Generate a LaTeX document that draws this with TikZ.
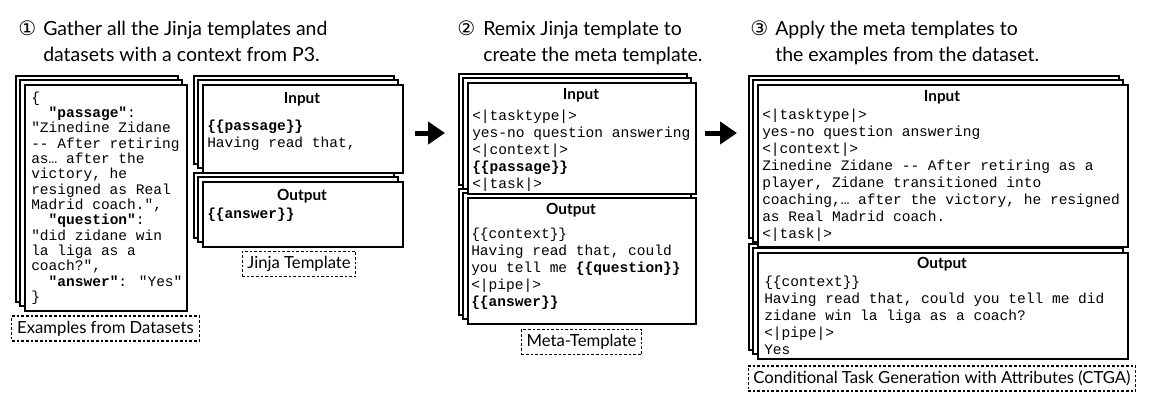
\documentclass[tikz,border=0pt]{standalone}
\usepackage{fontspec}
\setmainfont{Lato}
\newfontfamily\codefont{Liberation Mono}
\newfontfamily\numfont{DejaVu Sans}
\usetikzlibrary{shadows,arrows.meta}

\begin{document}
\begin{tikzpicture}[x=0.75pt,y=-0.75pt]
	\tikzstyle{box} = [draw, line width=1.5pt, fill=white, anchor=north west, inner sep=0pt,
		copy shadow={shadow xshift=-6.75pt, shadow yshift=6.75pt, draw=black, fill=white},
		copy shadow={shadow xshift=-3.4pt, shadow yshift=3.4pt, draw=black, fill=white}]
	\tikzstyle{mono} = [anchor=base west, align=left, inner sep=0pt, font=\codefont\fontsize{10.9}{12.75}\selectfont]
	\tikzstyle{head} = [anchor=base, inner sep=0pt, font=\bfseries\fontsize{11.5}{13}\selectfont]
	\tikzstyle{title} = [anchor=base west, align=left, inner sep=0pt, font=\fontsize{14.6}{19.5}\selectfont]
	\tikzstyle{num} = [anchor=base west, inner sep=0pt, font=\numfont\fontsize{15}{18}\selectfont]
	\tikzstyle{lbl} = [draw, line width=0.8pt, dash pattern=on 2pt off 1.5pt, inner xsep=4pt,
		minimum height=18.75pt, font=\fontsize{12.5}{14}\selectfont]
	\tikzstyle{arr} = [line width=3.75pt, -{Triangle[length=12.75pt,width=16.5pt]}]
	\useasboundingbox (0,0) rectangle (1159,405);

	% titles (base = last line)
	\node[num] (n1) at (18,35) {①};
	\node[title] (t1) at (43,61) {Gather all the Jinja templates and\\datasets with a context from P3.};
	\node[num] (n2) at (457,35) {②};
	\node[title] (t2) at (483,61) {Remix Jinja template to\\create the meta template.};
	\node[num] (n3) at (750,35) {③};
	\node[title] (t3) at (775,61) {Apply the meta templates to\\the examples from the dataset.};

	% examples
	\node[box, minimum width=162*.75pt, minimum height=226*.75pt] (ex) at (24,84) {};
	\node[mono, font=\codefont\fontsize{10.9}{11.5}\selectfont] (extxt) at (31,301.6) {\{\\
		\ \ \textbf{"passage"}:\\
		"Zinedine Zidane\\
		-{}- After retiring\\
		as… after the\\
		victory, he\\
		resigned as Real\\
		Madrid coach.",\\
		\ \ \textbf{"question"}:\\
		"did zidane win\\
		la liga as a\\
		coach?",\\
		\ \ \textbf{"answer"}: "Yes"\\
		\}};
	\node[lbl] (exlbl) at (105.5,328.5) {Examples from Datasets};

	% jinja template
	\node[box, minimum width=200*.75pt, minimum height=88*.75pt] (jin) at (202,84) {};
	\node[head] (jinhd) at (302,103) {Input};
	\node[mono] (jintxt) at (207,147) {\textbf{\{\{passage\}\}}\\Having read that,};
	\node[box, minimum width=200*.75pt, minimum height=65*.75pt] (jout) at (202,181) {};
	\node[head] (jouthd) at (302,200) {Output};
	\node[mono] (jouttxt) at (207,218) {\textbf{\{\{answer\}\}}};
	\node[lbl] (jinlbl) at (299,264) {Jinja Template};

	\coordinate (a1) at (415,133);
	\coordinate (b1) at (445,133);
	\draw[arr] (a1) -- (b1);

	% meta template (output stack first, input lies on top of it)
	\node[box, minimum width=228*.75pt, minimum height=126*.75pt] (mout) at (467,197) {};
	\node[box, minimum width=228*.75pt, minimum height=111*.75pt] (min) at (467,82) {};
	\node[head] (minhd) at (581,99) {Input};
	\node[mono] (mintxt) at (472,188) {<|tasktype|>\\
		yes-no question answering\\
		<|context|>\\
		\textbf{\{\{passage\}\}}\\
		<|task|>};
	\node[head] (mouthd) at (571,214) {Output};
	\node[mono] (mouttxt) at (471,306) {\{\{context\}\}\\
		Having read that, could\\
		you tell me \textbf{\{\{question\}\}}\\
		<|pipe|>\\
		\textbf{\{\{answer\}\}}};
	\node[lbl] (metalbl) at (581.5,342) {Meta-Template};

	\coordinate (a2) at (705,133);
	\coordinate (b2) at (737,133);
	\draw[arr] (a2) -- (b2);

	% ctga
	\node[box, minimum width=370*.75pt, minimum height=106*.75pt] (cout) at (757,252) {};
	\node[box, minimum width=370*.75pt, minimum height=162*.75pt] (cin) at (757,84) {};
	\node[head] (cinhd) at (942,101) {Input};
	\node[mono] (cintxt) at (762,238) {<|tasktype|>\\
		yes-no question answering\\
		<|context|>\\
		Zinedine Zidane -{}- After retiring as a\\
		player, Zidane transitioned into\\
		coaching,… after the victory, he resigned\\
		as Real Madrid coach.\\
		<|task|>};
	\node[head] (couthd) at (942,268) {Output};
	\node[mono] (couttxt) at (764,354) {\{\{context\}\}\\
		Having read that, could you tell me did\\
		zidane win la liga as a coach?\\
		<|pipe|>\\
		Yes};
	\node[lbl] (ctgalbl) at (942,378.5) {Conditional Task Generation with Attributes (CTGA)};
\end{tikzpicture}
\end{document}
